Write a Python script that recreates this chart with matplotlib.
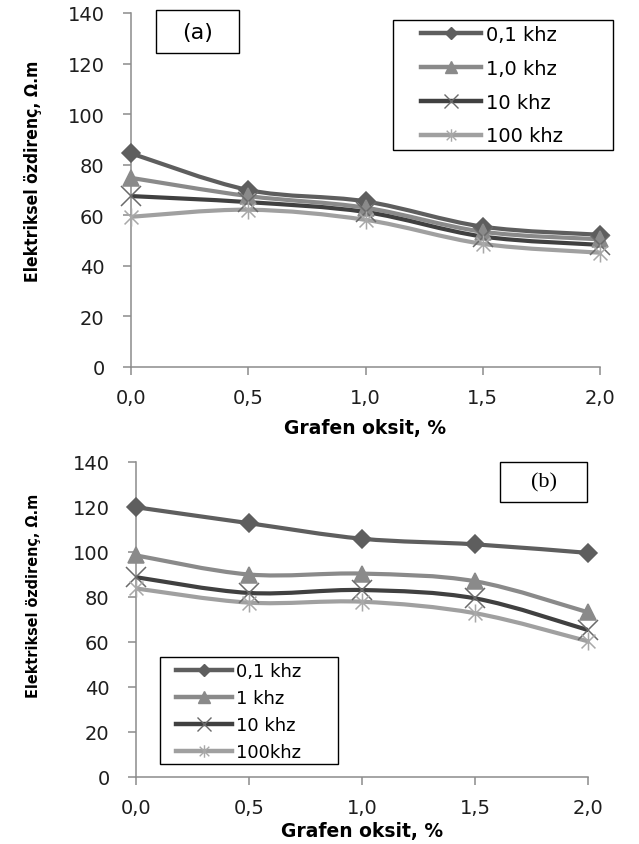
import numpy as np
import matplotlib.pyplot as plt
from matplotlib.path import Path
from matplotlib.patches import PathPatch, Rectangle
from matplotlib.lines import Line2D

# graphene oxide content, %
x = [0.0, 0.5, 1.0, 1.5, 2.0]
xlabels = ['0,0', '0,5', '1,0', '1,5', '2,0']

# panel (a)
a_01 = [84.5, 70.0, 65.5, 55.5, 52.3]
a_1 = [74.8, 67.6, 63.0, 53.5, 50.5]
a_10 = [67.6, 65.2, 61.3, 51.6, 48.3]
a_100 = [59.4, 62.2, 58.2, 48.7, 45.2]
a_names = ['0,1 khz', '1,0 khz', '10 khz', '100 khz']

# panel (b)
b_01 = [119.9, 112.8, 105.9, 103.4, 99.6]
b_1 = [98.5, 90.0, 90.4, 87.0, 73.2]
b_10 = [88.8, 81.8, 83.1, 79.4, 65.3]
b_100 = [83.8, 77.5, 77.9, 72.8, 60.3]
b_names = ['0,1 khz', '1 khz', '10 khz', '100khz']

colors = ['#5e5e5e', '#8a8a8a', '#404040', '#a0a0a0']
mcolors = ['#5e5e5e', '#8a8a8a', '#6a6a6a', '#a8a8a8']

star = Path([(-1, -1), (1, 1), (-1, 1), (1, -1), (0, -1.3), (0, 1.3)],
            [Path.MOVETO, Path.LINETO, Path.MOVETO, Path.LINETO, Path.MOVETO, Path.LINETO])
markers = ['D', '^', 'x', star]
msizes = [9, 12, 14, 13]
leg_msizes = [6, 8, 10, 9]

plt.rcParams['font.family'] = ['DejaVu Sans']


def smooth_path(xs, ys):
    # excel-like smoothed line (catmull-rom as cubic beziers)
    pts = np.column_stack([xs, ys])
    verts = [pts[0]]
    codes = [Path.MOVETO]
    n = len(pts)
    for i in range(n - 1):
        p0 = pts[max(i - 1, 0)]
        p1 = pts[i]
        p2 = pts[i + 1]
        p3 = pts[min(i + 2, n - 1)]
        verts += [p1 + (p2 - p0) / 6, p2 - (p3 - p1) / 6, p2]
        codes += [Path.CURVE4] * 3
    return Path(verts, codes)


def frame(box):
    bx, by, bw, bh = box
    fig.add_artist(Rectangle((bx / W, 1 - (by + bh) / H), bw / W, bh / H,
                             transform=fig.transFigure, fill=False, ec='black', lw=1.0))


def panel(ax, series, names, label, label_font, ylab, xlab_y, leg, box, legbox):
    handles = []
    for i, ys in enumerate(series):
        ax.add_patch(PathPatch(smooth_path(x, ys), fill=False, edgecolor=colors[i],
                               lw=3.0, zorder=2 + i * 0.1, capstyle='round'))
        ax.plot(x, ys, linestyle='none', marker=markers[i], ms=msizes[i], color=mcolors[i],
                mec=mcolors[i], mew=1.1, zorder=3, clip_on=False)
        handles.append(Line2D([], [], color=colors[i], lw=3.2, marker=markers[i],
                              ms=leg_msizes[i], mfc=mcolors[i], mec=mcolors[i], mew=1.0))
    ax.set_xlim(0, 2)
    ax.set_ylim(0, 140)
    ax.set_xticks(x)
    ax.set_xticklabels(xlabels)
    ax.set_yticks(range(0, 141, 20))
    for s in ['top', 'right']:
        ax.spines[s].set_visible(False)
    for s in ['left', 'bottom']:
        ax.spines[s].set_color('#8c8c8c')
        ax.spines[s].set_linewidth(1.1)
    ax.tick_params(direction='out', length=6, width=1.1, color='#8c8c8c',
                   labelsize=14, labelcolor='#1e1e1e')
    ax.tick_params(axis='y', pad=13)
    ax.tick_params(axis='x', pad=9)
    ax.set_ylabel('Elektriksel özdirenç, Ω.m', fontstretch='condensed',
                  fontweight='bold', fontsize=ylab[2])
    ax.yaxis.set_label_coords(ylab[0], ylab[1])
    ax.set_xlabel('Grafen oksit, %', fontweight='bold', fontsize=13.5)
    ax.xaxis.set_label_coords(0.5, xlab_y)

    lx, ly, fs, spacing = leg
    fig.legend(handles, names, loc='upper left', bbox_to_anchor=(lx / W, 1 - ly / H),
               bbox_transform=fig.transFigure, fontsize=fs, handlelength=3.1,
               handletextpad=0.22, labelspacing=spacing, borderpad=0,
               borderaxespad=0, frameon=False)
    frame(legbox)

    frame(box)
    bx, by, bw, bh = box
    fig.text((bx + bw / 2) / W, 1 - (by + bh / 2) / H, label, ha='center', va='center',
             family=label_font, fontsize=16)


W, H = 639, 845
fig = plt.figure(figsize=(W / 100, H / 100), dpi=100)
ax1 = fig.add_axes([131 / W, 1 - 368 / H, 469 / W, 354 / H])
ax2 = fig.add_axes([136 / W, 1 - 778 / H, 452 / W, 315 / H])

panel(ax1, [a_01, a_1, a_10, a_100], a_names, '(a)', 'DejaVu Sans',
      (-0.19, 0.555, 12.5), -0.145, (421, 26, 14, 0.76),
      (156, 11, 83, 43), (393, 21, 220, 130))
panel(ax2, [b_01, b_1, b_10, b_100], b_names, '(b)', 'Liberation Serif',
      (-0.21, 0.578, 11.5), -0.14, (176, 663, 13, 0.5),
      (500, 463, 87, 40), (160, 658, 178, 107))

fig.savefig('out.png', dpi=100)
